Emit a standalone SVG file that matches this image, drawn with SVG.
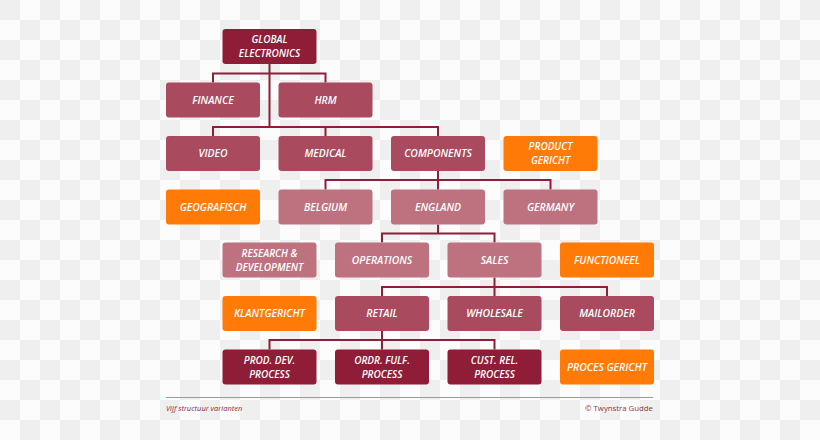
<svg xmlns="http://www.w3.org/2000/svg" width="820" height="440" viewBox="0 0 820 440">
<defs>
<pattern id="chk" width="40" height="40" patternUnits="userSpaceOnUse">
<rect width="40" height="40" fill="#fcfcfc"/>
<rect x="0" y="0" width="20" height="20" fill="#efefef"/>
<rect x="20" y="20" width="20" height="20" fill="#efefef"/>
</pattern>
<style>
.b rect{rx:3;ry:3}
.dark rect{fill:#8f1d37}
.mid rect{fill:#a94a5e}
.light rect{fill:#be7280}
.org rect{fill:#ff7a06}
.b text{font-family:"Open Sans","Liberation Sans",sans-serif;font-style:italic;font-weight:600;font-size:10.4px;fill:#ffffff;text-anchor:middle}
.b text.two{font-size:10px}
.con path{fill:none;stroke:#8c1f39;stroke-width:2}
</style>
</defs>
<rect width="820" height="440" fill="url(#chk)"/>
<g class="con">
<path d="M269.5 64 V127 M213 82.5 V73.5 H325.5 V82.5"/>
<path d="M213 136 V127 H438 V136 M325.5 127 V136"/>
<path d="M438 171 V189.5 M325.5 189.5 V180 H550.5 V189.5"/>
<path d="M438 224.5 V233.5 M382 242.5 V233.5 H494.5 V242.5"/>
<path d="M494.5 277.5 V296 M382 296 V287 H607 V296"/>
<path d="M382 331 V349.5 M269.5 349.5 V340 H494.5 V349.5"/>
</g>
<g id="global" class="b dark"><rect x="222.5" y="29" width="94" height="35"/><text class="two" x="269.5" y="43.3">GLOBAL</text><text class="two" x="269.5" y="57">ELECTRONICS</text></g>
<g id="finance" class="b mid"><rect x="166" y="82.5" width="94" height="35"/><text x="213" y="103.8">FINANCE</text></g>
<g id="hrm" class="b mid"><rect x="278.5" y="82.5" width="94" height="35"/><text x="325.5" y="103.8">HRM</text></g>
<g id="video" class="b mid"><rect x="166" y="136" width="94" height="35"/><text x="213" y="157.3">VIDEO</text></g>
<g id="medical" class="b mid"><rect x="278.5" y="136" width="94" height="35"/><text x="325.5" y="157.3">MEDICAL</text></g>
<g id="components" class="b mid"><rect x="391" y="136" width="94" height="35"/><text x="438" y="157.3">COMPONENTS</text></g>
<g id="product" class="b org"><rect x="503.5" y="136" width="94" height="35"/><text class="two" x="550.5" y="150.3">PRODUCT</text><text class="two" x="550.5" y="164">GERICHT</text></g>
<g id="geografisch" class="b org"><rect x="166" y="189.5" width="94" height="35"/><text x="213" y="210.8">GEOGRAFISCH</text></g>
<g id="belgium" class="b light"><rect x="278.5" y="189.5" width="94" height="35"/><text x="325.5" y="210.8">BELGIUM</text></g>
<g id="england" class="b light"><rect x="391" y="189.5" width="94" height="35"/><text x="438" y="210.8">ENGLAND</text></g>
<g id="germany" class="b light"><rect x="503.5" y="189.5" width="94" height="35"/><text x="550.5" y="210.8">GERMANY</text></g>
<g id="research" class="b light"><rect x="222.5" y="242.5" width="94" height="35"/><text class="two" x="269.5" y="256.8">RESEARCH &amp;</text><text class="two" x="269.5" y="270.5">DEVELOPMENT</text></g>
<g id="operations" class="b light"><rect x="335" y="242.5" width="94" height="35"/><text x="382" y="263.8">OPERATIONS</text></g>
<g id="sales" class="b light"><rect x="447.5" y="242.5" width="94" height="35"/><text x="494.5" y="263.8">SALES</text></g>
<g id="functioneel" class="b org"><rect x="560" y="242.5" width="94" height="35"/><text x="607" y="263.8">FUNCTIONEEL</text></g>
<g id="klantgericht" class="b org"><rect x="222.5" y="296" width="94" height="35"/><text x="269.5" y="317.3">KLANTGERICHT</text></g>
<g id="retail" class="b mid"><rect x="335" y="296" width="94" height="35"/><text x="382" y="317.3">RETAIL</text></g>
<g id="wholesale" class="b mid"><rect x="447.5" y="296" width="94" height="35"/><text x="494.5" y="317.3">WHOLESALE</text></g>
<g id="mailorder" class="b mid"><rect x="560" y="296" width="94" height="35"/><text x="607" y="317.3">MAILORDER</text></g>
<g id="proddev" class="b dark"><rect x="222.5" y="349.5" width="94" height="35"/><text class="two" x="269.5" y="363.8">PROD. DEV.</text><text class="two" x="269.5" y="377.5">PROCESS</text></g>
<g id="ordrfulf" class="b dark"><rect x="335" y="349.5" width="94" height="35"/><text class="two" x="382" y="363.8">ORDR. FULF.</text><text class="two" x="382" y="377.5">PROCESS</text></g>
<g id="custrel" class="b dark"><rect x="447.5" y="349.5" width="94" height="35"/><text class="two" x="494.5" y="363.8">CUST. REL.</text><text class="two" x="494.5" y="377.5">PROCESS</text></g>
<g id="procesgericht" class="b org"><rect x="560" y="349.5" width="94" height="35"/><text x="607" y="370.8">PROCES GERICHT</text></g>
<g id="footer">
<line x1="166" y1="397.5" x2="653" y2="397.5" stroke="#c9848f" stroke-width="1"/>
<text x="166" y="410.5" font-family="'Open Sans','Liberation Sans',sans-serif" font-style="italic" font-size="7.5" fill="#8d2a3e">Vijf structuur varianten</text>
<text x="653" y="410.5" text-anchor="end" font-family="'Open Sans','Liberation Sans',sans-serif" font-size="7.8" fill="#8a3545">© Twynstra Gudde</text>
</g>
</svg>
